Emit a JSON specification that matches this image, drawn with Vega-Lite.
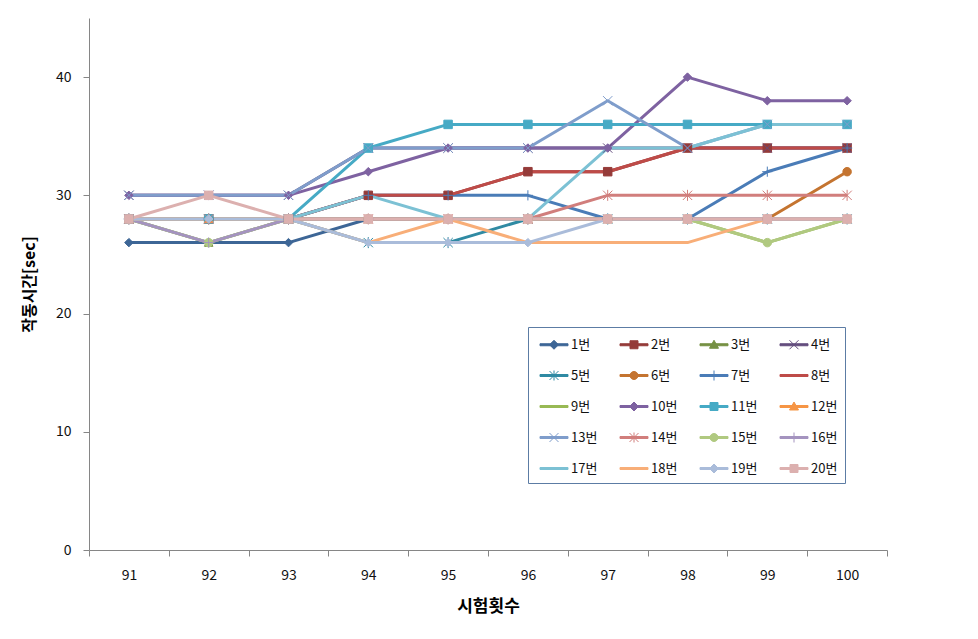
{
  "$schema": "https://vega.github.io/schema/vega-lite/v6.json",
  "width": 798,
  "height": 532,
  "autosize": {"type": "none"},
  "padding": {"left": 89, "top": 18, "right": 91, "bottom": 89},
  "background": "white",
  "config": {
    "view": {"stroke": null},
    "font": "Noto Sans CJK KR",
    "axis": {"domainColor": "#868686", "tickColor": "#868686", "labelColor": "#111", "titleColor": "#000", "grid": false, "labelFont": "Noto Sans CJK KR", "titleFont": "Noto Sans CJK KR"}
  },
  "data": {"values": [
    {"s":"1번","x":91,"y":26},{"s":"1번","x":92,"y":26},{"s":"1번","x":93,"y":26},{"s":"1번","x":94,"y":28},{"s":"1번","x":95,"y":28},{"s":"1번","x":96,"y":28},{"s":"1번","x":97,"y":28},{"s":"1번","x":98,"y":28},{"s":"1번","x":99,"y":28},{"s":"1번","x":100,"y":28},
    {"s":"2번","x":91,"y":28},{"s":"2번","x":92,"y":28},{"s":"2번","x":93,"y":28},{"s":"2번","x":94,"y":30},{"s":"2번","x":95,"y":30},{"s":"2번","x":96,"y":32},{"s":"2번","x":97,"y":32},{"s":"2번","x":98,"y":34},{"s":"2번","x":99,"y":34},{"s":"2번","x":100,"y":34},
    {"s":"3번","x":91,"y":28},{"s":"3번","x":92,"y":26},{"s":"3번","x":93,"y":28},{"s":"3번","x":94,"y":28},{"s":"3번","x":95,"y":28},{"s":"3번","x":96,"y":28},{"s":"3번","x":97,"y":28},{"s":"3번","x":98,"y":28},{"s":"3번","x":99,"y":28},{"s":"3번","x":100,"y":28},
    {"s":"4번","x":91,"y":30},{"s":"4번","x":92,"y":30},{"s":"4번","x":93,"y":30},{"s":"4번","x":94,"y":34},{"s":"4번","x":95,"y":34},{"s":"4번","x":96,"y":34},{"s":"4번","x":97,"y":34},{"s":"4번","x":98,"y":34},{"s":"4번","x":99,"y":34},{"s":"4번","x":100,"y":34},
    {"s":"5번","x":91,"y":28},{"s":"5번","x":92,"y":28},{"s":"5번","x":93,"y":28},{"s":"5번","x":94,"y":26},{"s":"5번","x":95,"y":26},{"s":"5번","x":96,"y":28},{"s":"5번","x":97,"y":28},{"s":"5번","x":98,"y":28},{"s":"5번","x":99,"y":28},{"s":"5번","x":100,"y":28},
    {"s":"6번","x":91,"y":28},{"s":"6번","x":92,"y":28},{"s":"6번","x":93,"y":28},{"s":"6번","x":94,"y":28},{"s":"6번","x":95,"y":28},{"s":"6번","x":96,"y":28},{"s":"6번","x":97,"y":28},{"s":"6번","x":98,"y":28},{"s":"6번","x":99,"y":28},{"s":"6번","x":100,"y":32},
    {"s":"7번","x":91,"y":28},{"s":"7번","x":92,"y":28},{"s":"7번","x":93,"y":28},{"s":"7번","x":94,"y":30},{"s":"7번","x":95,"y":30},{"s":"7번","x":96,"y":30},{"s":"7번","x":97,"y":28},{"s":"7번","x":98,"y":28},{"s":"7번","x":99,"y":32},{"s":"7번","x":100,"y":34},
    {"s":"8번","x":91,"y":28},{"s":"8번","x":92,"y":28},{"s":"8번","x":93,"y":28},{"s":"8번","x":94,"y":30},{"s":"8번","x":95,"y":30},{"s":"8번","x":96,"y":32},{"s":"8번","x":97,"y":32},{"s":"8번","x":98,"y":34},{"s":"8번","x":99,"y":34},{"s":"8번","x":100,"y":34},
    {"s":"9번","x":91,"y":28},{"s":"9번","x":92,"y":28},{"s":"9번","x":93,"y":28},{"s":"9번","x":94,"y":28},{"s":"9번","x":95,"y":28},{"s":"9번","x":96,"y":28},{"s":"9번","x":97,"y":28},{"s":"9번","x":98,"y":28},{"s":"9번","x":99,"y":26},{"s":"9번","x":100,"y":28},
    {"s":"10번","x":91,"y":30},{"s":"10번","x":92,"y":30},{"s":"10번","x":93,"y":30},{"s":"10번","x":94,"y":32},{"s":"10번","x":95,"y":34},{"s":"10번","x":96,"y":34},{"s":"10번","x":97,"y":34},{"s":"10번","x":98,"y":40},{"s":"10번","x":99,"y":38},{"s":"10번","x":100,"y":38},
    {"s":"11번","x":91,"y":28},{"s":"11번","x":92,"y":28},{"s":"11번","x":93,"y":28},{"s":"11번","x":94,"y":34},{"s":"11번","x":95,"y":36},{"s":"11번","x":96,"y":36},{"s":"11번","x":97,"y":36},{"s":"11번","x":98,"y":36},{"s":"11번","x":99,"y":36},{"s":"11번","x":100,"y":36},
    {"s":"12번","x":91,"y":28},{"s":"12번","x":92,"y":28},{"s":"12번","x":93,"y":28},{"s":"12번","x":94,"y":28},{"s":"12번","x":95,"y":28},{"s":"12번","x":96,"y":28},{"s":"12번","x":97,"y":28},{"s":"12번","x":98,"y":28},{"s":"12번","x":99,"y":28},{"s":"12번","x":100,"y":28},
    {"s":"13번","x":91,"y":30},{"s":"13번","x":92,"y":30},{"s":"13번","x":93,"y":30},{"s":"13번","x":94,"y":34},{"s":"13번","x":95,"y":34},{"s":"13번","x":96,"y":34},{"s":"13번","x":97,"y":38},{"s":"13번","x":98,"y":34},{"s":"13번","x":99,"y":36},{"s":"13번","x":100,"y":36},
    {"s":"14번","x":91,"y":28},{"s":"14번","x":92,"y":28},{"s":"14번","x":93,"y":28},{"s":"14번","x":94,"y":28},{"s":"14번","x":95,"y":28},{"s":"14번","x":96,"y":28},{"s":"14번","x":97,"y":30},{"s":"14번","x":98,"y":30},{"s":"14번","x":99,"y":30},{"s":"14번","x":100,"y":30},
    {"s":"15번","x":91,"y":28},{"s":"15번","x":92,"y":26},{"s":"15번","x":93,"y":28},{"s":"15번","x":94,"y":28},{"s":"15번","x":95,"y":28},{"s":"15번","x":96,"y":28},{"s":"15번","x":97,"y":28},{"s":"15번","x":98,"y":28},{"s":"15번","x":99,"y":26},{"s":"15번","x":100,"y":28},
    {"s":"16번","x":91,"y":28},{"s":"16번","x":92,"y":26},{"s":"16번","x":93,"y":28},{"s":"16번","x":94,"y":28},{"s":"16번","x":95,"y":28},{"s":"16번","x":96,"y":28},{"s":"16번","x":97,"y":28},{"s":"16번","x":98,"y":28},{"s":"16번","x":99,"y":28},{"s":"16번","x":100,"y":28},
    {"s":"17번","x":91,"y":28},{"s":"17번","x":92,"y":28},{"s":"17번","x":93,"y":28},{"s":"17번","x":94,"y":30},{"s":"17번","x":95,"y":28},{"s":"17번","x":96,"y":28},{"s":"17번","x":97,"y":34},{"s":"17번","x":98,"y":34},{"s":"17번","x":99,"y":36},{"s":"17번","x":100,"y":36},
    {"s":"18번","x":91,"y":28},{"s":"18번","x":92,"y":28},{"s":"18번","x":93,"y":28},{"s":"18번","x":94,"y":26},{"s":"18번","x":95,"y":28},{"s":"18번","x":96,"y":26},{"s":"18번","x":97,"y":26},{"s":"18번","x":98,"y":26},{"s":"18번","x":99,"y":28},{"s":"18번","x":100,"y":28},
    {"s":"19번","x":91,"y":28},{"s":"19번","x":92,"y":28},{"s":"19번","x":93,"y":28},{"s":"19번","x":94,"y":26},{"s":"19번","x":95,"y":26},{"s":"19번","x":96,"y":26},{"s":"19번","x":97,"y":28},{"s":"19번","x":98,"y":28},{"s":"19번","x":99,"y":28},{"s":"19번","x":100,"y":28},
    {"s":"20번","x":91,"y":28},{"s":"20번","x":92,"y":30},{"s":"20번","x":93,"y":28},{"s":"20번","x":94,"y":28},{"s":"20번","x":95,"y":28},{"s":"20번","x":96,"y":28},{"s":"20번","x":97,"y":28},{"s":"20번","x":98,"y":28},{"s":"20번","x":99,"y":28},{"s":"20번","x":100,"y":28}
  ]},
  "encoding": {
    "x": {"field": "x", "type": "ordinal", "bandPosition": 0.5,
      "scale": {"type": "band", "paddingInner": 0, "paddingOuter": 0},
      "axis": {"title": "시험횟수", "labelAngle": 0, "tickBand": "extent", "tickSize": 6, "labelPadding": 12, "labelFontSize": 14, "titleFontSize": 17, "titleFontWeight": "bold", "titleY": 56, "titleBaseline": "middle"}},
    "y": {"field": "y", "type": "quantitative",
      "scale": {"domain": [0, 45], "nice": false},
      "axis": {"title": "작동시간[sec]", "values": [0, 10, 20, 30, 40], "tickSize": 6, "labelPadding": 12, "labelFontSize": 14, "titleFontSize": 16, "titleFontWeight": "bold", "titleX": -60, "titleY": 266, "titleAngle": 270, "titleAlign": "center", "titleBaseline": "middle"}}
  },
  "layer": [
    {
      "mark": {"type": "line", "strokeWidth": 3, "strokeJoin": "round"},
      "encoding": {
        "color": {"field": "s", "type": "nominal",
          "scale": {"domain": ["1번","2번","3번","4번","5번","6번","7번","8번","9번","10번","11번","12번","13번","14번","15번","16번","17번","18번","19번","20번"],
            "range": ["#3D6696","#953B39","#769143","#634C7E","#2F8AA3","#C47430","#4A7CB7","#BE4B48","#98B954","#7E62A1","#46AAC5","#F69545","#7F9DCB","#D17E7C","#B0C980","#A493BF","#7CC1D4","#F8AE78","#AABCDA","#DCB0AF"]},
          "legend": {
            "title": null, "orient": "none", "legendX": 439, "legendY": 309, "columns": 4, "direction": "horizontal",
            "padding": 7, "rowPadding": 13, "columnPadding": 17, "labelOffset": 15,
            "symbolSize": 400, "labelFontSize": 13, "labelFont": "Noto Sans CJK KR", "labelColor": "#111",
            "strokeColor": "#5C7CA4", "fillColor": "white",
            "encode": {"symbols": {"update": {
              "shape": {"signal": "{'1번':'M-0.55,-0.1H2.25V0.1H-0.55ZM0.85,-0.45L1.3,0L0.85,0.45L0.4,0Z','2번':'M-0.55,-0.1H2.25V0.1H-0.55ZM0.45,-0.4H1.25V0.4H0.45Z','3번':'M-0.55,-0.1H2.25V0.1H-0.55ZM0.85,-0.45L1.3,0.35H0.4Z','4번':'M-0.55,-0.1H2.25V0.1H-0.55ZM0.4,-0.45L1.3,0.45M0.4,0.45L1.3,-0.45','5번':'M-0.55,-0.1H2.25V0.1H-0.55ZM0.4,-0.45L1.3,0.45M0.4,0.45L1.3,-0.45M0.85,-0.5V0.5','6번':'M-0.55,-0.1H2.25V0.1H-0.55ZM0.45,0A0.4,0.4,0,1,1,1.25,0A0.4,0.4,0,1,1,0.45,0Z','7번':'M-0.55,-0.1H2.25V0.1H-0.55ZM0.85,-0.5V0.5','8번':'M-0.55,-0.1H2.25V0.1H-0.55Z','9번':'M-0.55,-0.1H2.25V0.1H-0.55Z','10번':'M-0.55,-0.1H2.25V0.1H-0.55ZM0.85,-0.45L1.3,0L0.85,0.45L0.4,0Z','11번':'M-0.55,-0.1H2.25V0.1H-0.55ZM0.45,-0.4H1.25V0.4H0.45Z','12번':'M-0.55,-0.1H2.25V0.1H-0.55ZM0.85,-0.45L1.3,0.35H0.4Z','13번':'M-0.55,-0.1H2.25V0.1H-0.55ZM0.4,-0.45L1.3,0.45M0.4,0.45L1.3,-0.45','14번':'M-0.55,-0.1H2.25V0.1H-0.55ZM0.4,-0.45L1.3,0.45M0.4,0.45L1.3,-0.45M0.85,-0.5V0.5','15번':'M-0.55,-0.1H2.25V0.1H-0.55ZM0.45,0A0.4,0.4,0,1,1,1.25,0A0.4,0.4,0,1,1,0.45,0Z','16번':'M-0.55,-0.1H2.25V0.1H-0.55ZM0.85,-0.5V0.5','17번':'M-0.55,-0.1H2.25V0.1H-0.55Z','18번':'M-0.55,-0.1H2.25V0.1H-0.55Z','19번':'M-0.55,-0.1H2.25V0.1H-0.55ZM0.85,-0.45L1.3,0L0.85,0.45L0.4,0Z','20번':'M-0.55,-0.1H2.25V0.1H-0.55ZM0.45,-0.4H1.25V0.4H0.45Z'}[datum.value]"},
              "fill": {"scale": "color", "field": "value"},
              "stroke": {"scale": "color", "field": "value"},
              "strokeWidth": {"value": 1},
              "size": {"value": 400},
              "opacity": {"value": 1},
              "fillOpacity": {"value": 1},
              "strokeOpacity": {"value": 1}
            }}}
          }}
      }
    },
    {
      "transform": [{"filter": {"field": "s", "oneOf": ["1번","2번","3번","4번","5번","6번","7번","10번","11번","12번","13번","14번","15번","16번","19번","20번"]}}],
      "mark": {"type": "point", "filled": true, "size": 72, "strokeWidth": 1, "opacity": 1},
      "encoding": {
        "color": {"field": "s", "type": "nominal"},
        "stroke": {"field": "s", "type": "nominal", "legend": null,
          "scale": {"domain": ["1번","2번","3번","4번","5번","6번","7번","8번","9번","10번","11번","12번","13번","14번","15번","16번","17번","18번","19번","20번"],
            "range": ["#3D6696","#953B39","#769143","#634C7E","#2F8AA3","#C47430","#4A7CB7","#BE4B48","#98B954","#7E62A1","#46AAC5","#F69545","#7F9DCB","#D17E7C","#B0C980","#A493BF","#7CC1D4","#F8AE78","#AABCDA","#DCB0AF"]}},
        "shape": {"field": "s", "type": "nominal", "legend": null,
          "scale": {"domain": ["1번","2번","3번","4번","5번","6번","7번","10번","11번","12번","13번","14번","15번","16번","19번","20번"],
            "range": ["diamond","square","triangle-up","M-1.1,-1.1L1.1,1.1M-1.1,1.1L1.1,-1.1","M-1.1,-1.1L1.1,1.1M-1.1,1.1L1.1,-1.1M0,-1.3L0,1.3","circle","M-1.2,0L1.2,0M0,-1.2L0,1.2","diamond","square","triangle-up","M-1.1,-1.1L1.1,1.1M-1.1,1.1L1.1,-1.1","M-1.1,-1.1L1.1,1.1M-1.1,1.1L1.1,-1.1M0,-1.3L0,1.3","circle","M-1.2,0L1.2,0M0,-1.2L0,1.2","diamond","square"]}}
      }
    }
  ]
}
